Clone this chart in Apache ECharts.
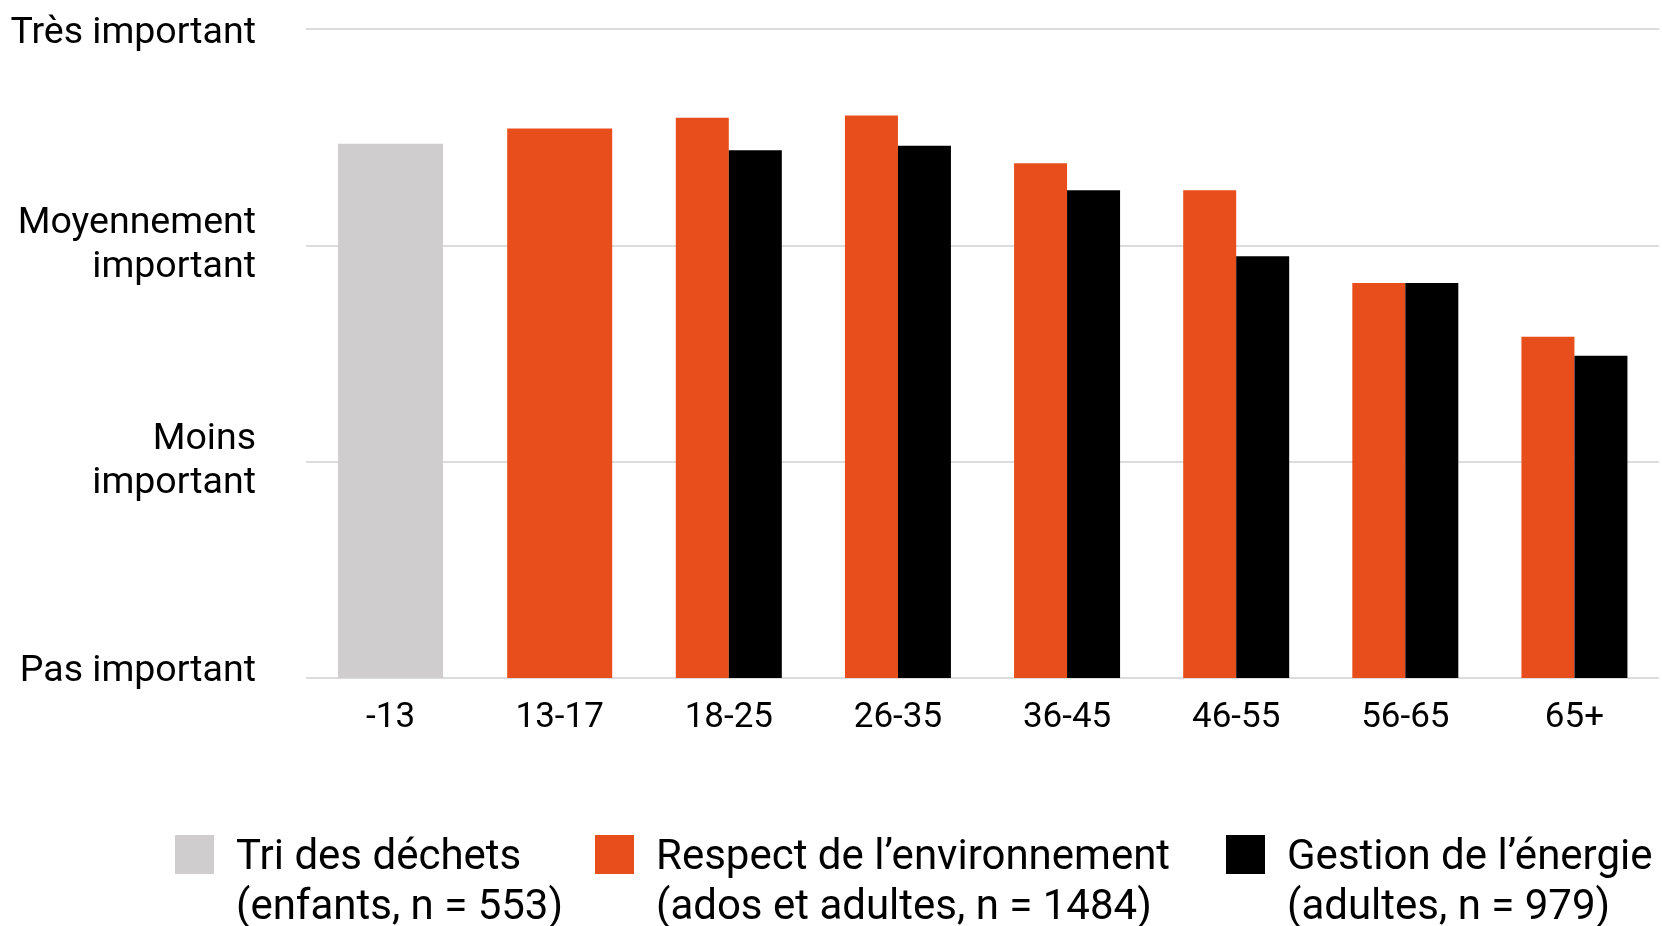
<!DOCTYPE html>
<html>
<head>
<meta charset="utf-8">
<script src="https://cdn.jsdelivr.net/npm/echarts@6/dist/echarts.min.js"></script>
<style>
html,body{margin:0;padding:0;background:#fff;}
#chart{width:1662px;height:926px;}
</style>
</head>
<body>
<div id="chart"></div>
<script>
// Data
var categories = ['-13', '13-17', '18-25', '26-35', '36-45', '46-55', '56-65', '65+'];
var yLabels = ['Pas important', 'Moins\nimportant', 'Moyennement\nimportant', 'Très important'];
var triDechets = [2.47, null, null, null, null, null, null, null];
var respectEnv = [null, 2.54, 2.59, 2.60, 2.38, 2.255, 1.826, 1.578];
var gestionEnergie = [null, null, 2.44, 2.46, 2.255, 1.95, 1.826, 1.49];
var seriesNames = [
  'Tri des déchets\n(enfants, n = 553)',
  'Respect de l\u2019environnement\n(ados et adultes, n = 1484)',
  'Gestion de l\u2019énergie\n(adultes, n = 979)'
];

var colGrey = '#cfcdce', colOrange = '#e84e1c', colBlack = '#000000';
var FONT = 'Roboto';

// split orange into single (no companion) and paired
var respectSingle = respectEnv.map(function (v, i) { return gestionEnergie[i] == null ? v : null; });
var respectPaired = respectEnv.map(function (v, i) { return gestionEnergie[i] == null ? null : v; });

var chart = echarts.init(document.getElementById('chart'), null, {renderer: 'canvas'});

// square icon placed next to the first line of a two-line label
var legendIcon = 'path://M0,0L0,0M0,5.5L39,5.5L39,44.5L0,44.5ZM0,108L0,108';

function legendFor(idx, left, color) {
  return {
    show: true,
    left: left,
    top: 829.5,
    orient: 'horizontal',
    itemWidth: 39,
    itemHeight: 108,
    itemGap: 10,
    icon: legendIcon,
    selectedMode: false,
    data: [{name: seriesNames[idx], itemStyle: {color: color}}],
    textStyle: {
      fontFamily: FONT,
      fontSize: 42,
      color: '#000',
      lineHeight: 50,
      padding: [0, 0, 0, 17]
    },
    padding: 0
  };
}

var option = {
  backgroundColor: '#fff',
  animation: false,
  textStyle: {fontFamily: FONT},
  grid: {left: 306, right: 3, top: 29, bottom: 248, containLabel: false},
  legend: [
    legendFor(0, 175, colGrey),
    legendFor(1, 595, colOrange),
    legendFor(2, 1226, colBlack)
  ],
  xAxis: [
    {
      type: 'category',
      data: categories,
      axisLine: {show: false},
      axisTick: {show: false},
      axisLabel: {fontFamily: FONT, fontSize: 35, color: '#000', margin: 23}
    },
    {
      type: 'category',
      data: categories,
      show: false
    }
  ],
  yAxis: {
    type: 'value',
    min: 0,
    max: 3,
    interval: 1,
    axisLine: {show: false},
    axisTick: {show: false},
    splitLine: {show: true, lineStyle: {color: '#dcdcdc', width: 2}},
    axisLabel: {
      fontFamily: FONT,
      fontSize: 37.5,
      color: '#000',
      margin: 50,
      lineHeight: 44,
      align: 'right',
      formatter: function (v) {
        var i = Math.round(v);
        if (i === 0) return '{low|' + yLabels[i] + '}';
        if (i === 3) return '{high|' + yLabels[i] + '}';
        return yLabels[i];
      },
      rich: {
        low: {fontFamily: FONT, fontSize: 37.5, color: '#000', padding: [0, 0, 12, 0]},
        high: {fontFamily: FONT, fontSize: 37.5, color: '#000', padding: [10, 0, 0, 0]}
      }
    }
  },
  series: [
    {
      name: seriesNames[0],
      type: 'bar',
      xAxisIndex: 1,
      stack: 'single',
      barWidth: 105,
      data: triDechets,
      itemStyle: {color: colGrey}
    },
    {
      name: seriesNames[1],
      type: 'bar',
      xAxisIndex: 1,
      stack: 'single',
      barWidth: 105,
      data: respectSingle,
      itemStyle: {color: colOrange}
    },
    {
      name: seriesNames[1],
      type: 'bar',
      xAxisIndex: 0,
      barWidth: 53,
      barGap: '0%',
      data: respectPaired,
      itemStyle: {color: colOrange}
    },
    {
      name: seriesNames[2],
      type: 'bar',
      xAxisIndex: 0,
      barWidth: 53,
      barGap: '0%',
      data: gestionEnergie,
      itemStyle: {color: colBlack}
    }
  ]
};
chart.setOption(option);
</script>
</body>
</html>
